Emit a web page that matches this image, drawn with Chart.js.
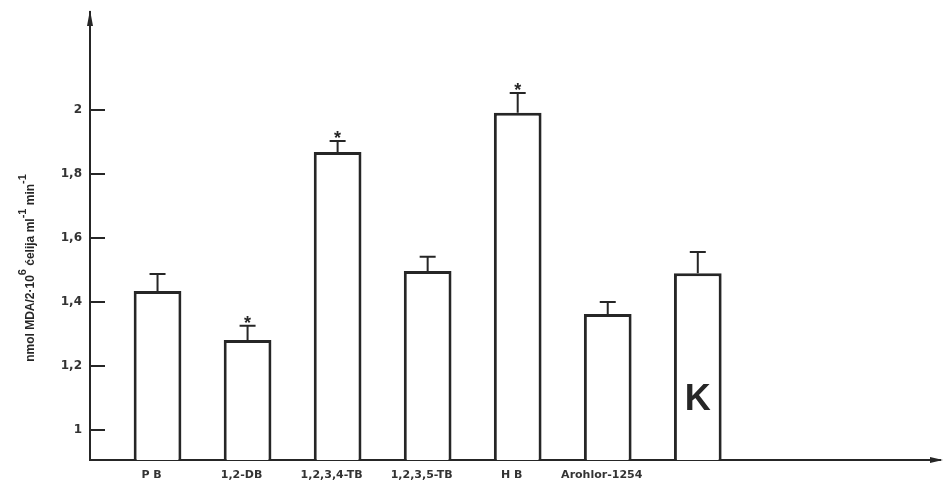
<!DOCTYPE html>
<html>
<head>
<meta charset="utf-8">
<script src="https://cdn.jsdelivr.net/npm/chart.js@4"></script>
<style>
html,body{margin:0;padding:0;background:#fff;}
#wrap{width:944px;height:481px;position:relative;}
</style>
</head>
<body>
<div id="wrap"><canvas id="c" width="944" height="481"></canvas></div>
<script>
// ---- data ----
const categories = ["P B", "1,2-DB", "1,2,3,4-TB", "1,2,3,5-TB", "H B", "Arohlor-1254", ""];
const means      = [1.434, 1.281, 1.869, 1.497, 1.992, 1.362, 1.490];
const errors     = [0.053, 0.044, 0.035, 0.044, 0.062, 0.038, 0.066];
const significant = [false, true, true, false, true, false, false];
const controlLabel = ["", "", "", "", "", "", "K"];
const yTickValues = [1, 1.2, 1.4, 1.6, 1.8, 2];
const yTickLabels = ["1", "1,2", "1,4", "1,6", "1,8", "2"];
const yTitleParts = [
  {t: "nmol MDA/2\u00b710", sup: false},
  {t: "6", sup: true},
  {t: " \u0107elija ml", sup: false},
  {t: "-1", sup: true},
  {t: " min", sup: false},
  {t: "-1", sup: true}
];

const INK = "#262626";
const FONT = "'Liberation Sans', Arial, sans-serif";
const FONT2 = "'DejaVu Sans', sans-serif";

const barData = means.map((v, i) => ({x: i + 1, y: v}));

const decor = {
  id: "decor",
  afterDatasetsDraw(chart) {
    const ctx = chart.ctx;
    const ys = chart.scales.y;
    const meta = chart.getDatasetMeta(0);
    const basePx = ys.bottom;
    ctx.save();
    ctx.strokeStyle = INK;
    ctx.fillStyle = INK;
    meta.data.forEach((el, i) => {
      const top = ys.getPixelForValue(means[i]);
      const et = ys.getPixelForValue(means[i] + errors[i]);
      ctx.lineWidth = 2;
      ctx.beginPath();
      ctx.moveTo(el.x, top);
      ctx.lineTo(el.x, et);
      ctx.moveTo(el.x - 8, et);
      ctx.lineTo(el.x + 8, et);
      ctx.stroke();
      if (significant[i]) {
        ctx.font = "bold 18px " + FONT;
        ctx.textAlign = "center";
        ctx.textBaseline = "alphabetic";
        ctx.fillText("*", el.x, et + 3);
      }
      if (controlLabel[i]) {
        ctx.font = "bold 36px " + FONT;
        ctx.textAlign = "center";
        ctx.textBaseline = "alphabetic";
        ctx.fillText(controlLabel[i], el.x, basePx - 50);
      }
    });
    ctx.restore();
  },
  afterDraw(chart) {
    const ctx = chart.ctx;
    const a = chart.chartArea;
    ctx.save();
    ctx.fillStyle = INK;
    // arrow at top of y axis
    ctx.beginPath();
    ctx.moveTo(a.left, a.top - 2);
    ctx.lineTo(a.left + 3, a.top + 14);
    ctx.lineTo(a.left - 3, a.top + 14);
    ctx.closePath();
    ctx.fill();
    // arrow at right of x axis
    ctx.beginPath();
    ctx.moveTo(a.right + 3, a.bottom);
    ctx.lineTo(a.right - 10, a.bottom - 3);
    ctx.lineTo(a.right - 10, a.bottom + 3);
    ctx.closePath();
    ctx.fill();
    // y axis title with superscripts
    ctx.translate(31, 268);
    ctx.rotate(-Math.PI / 2);
    const base = "bold 12px " + FONT;
    const sup = "bold 11px " + FONT;
    let total = 0;
    yTitleParts.forEach(p => { ctx.font = p.sup ? sup : base; total += ctx.measureText(p.t).width; });
    let x = -total / 2;
    ctx.textBaseline = "middle";
    ctx.textAlign = "left";
    yTitleParts.forEach(p => {
      ctx.font = p.sup ? sup : base;
      ctx.fillText(p.t, x, p.sup ? -8 : 0);
      x += ctx.measureText(p.t).width;
    });
    ctx.restore();
  }
};

new Chart(document.getElementById("c"), {
  type: "bar",
  data: {
    datasets: [{
      data: barData,
      backgroundColor: "#ffffff",
      borderColor: INK,
      borderWidth: 3,
      borderSkipped: "start",
      barPercentage: 0.53,
      categoryPercentage: 1.0
    }]
  },
  options: {
    responsive: false,
    animation: false,
    devicePixelRatio: 1,
    layout: {padding: {left: 0, top: 12, right: 4, bottom: 0}},
    plugins: {legend: {display: false}, tooltip: {enabled: false}, title: {display: false}},
    scales: {
      x: {
        type: "linear",
        offset: false,
        min: 0.25,
        max: 9.69,
        grid: {display: false, drawTicks: false},
        border: {display: true, color: INK, width: 2},
        afterBuildTicks: s => { s.ticks = categories.map((c, i) => ({value: i + 1})); },
        afterFit: s => { s.height = 21; s.paddingLeft = 0; s.paddingRight = 0; },
        ticks: {
          autoSkip: false,
          maxRotation: 0,
          padding: 9,
          labelOffset: -6,
          color: "#333",
          font: {family: FONT2, size: 11, weight: "bold"},
          callback: (v, i) => categories[i]
        }
      },
      y: {
        type: "linear",
        min: 0.905,
        max: 2.3076,
        grid: {drawOnChartArea: false, drawTicks: true, tickLength: -15, color: INK, lineWidth: 2},
        border: {display: true, color: INK, width: 2},
        afterBuildTicks: s => { s.ticks = yTickValues.map(v => ({value: v})); },
        afterFit: s => { s.width = 90; s.paddingTop = 0; s.paddingBottom = 0; },
        ticks: {
          padding: 23,
          color: "#333",
          font: {family: FONT2, size: 12, weight: "bold"},
          callback: (v, i) => yTickLabels[i]
        }
      }
    }
  },
  plugins: [decor]
});
</script>
</body>
</html>
